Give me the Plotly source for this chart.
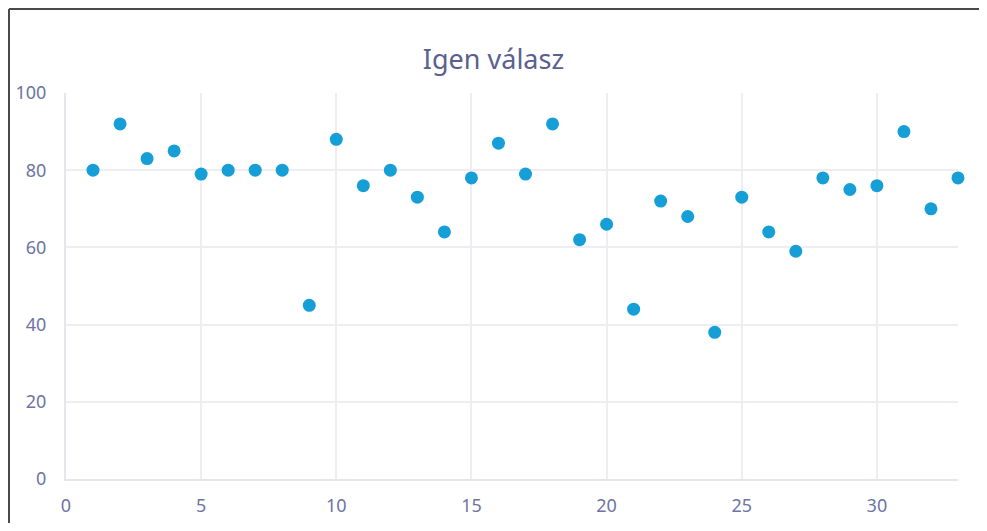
import plotly.graph_objects as go

# Data
days = list(range(1, 34))
igen = [80, 92, 83, 85, 79, 80, 80, 80, 45, 88, 76, 80, 73, 64, 78, 87, 79, 92,
        62, 66, 44, 72, 68, 38, 73, 64, 59, 78, 75, 76, 90, 70, 78]
title_text = "Igen válasz"

# page body has an 8px margin; figure placed at (8, 8)
OFF = 8
W, H = 987 - 2 * OFF, 531 - 2 * OFF
ml, mt = 66 - OFF, 93 - OFF
mr = W - (958 - OFF)
mb = H - (479 - OFF)
pw, ph = W - ml - mr, H - mt - mb

def px_x(p):
    return (p - OFF - ml) / pw

def px_y(p):
    return (H - mb - (p - OFF)) / ph

fig = go.Figure(go.Scatter(
    x=days, y=igen, mode="markers",
    marker=dict(size=13, color="#159fd6"),
    cliponaxis=False,
))

FONT = "Noto Sans, Open Sans, sans-serif"
label_color = "#6d74a3"
grid_color = "#ededf2"
fig.update_layout(
    width=W, height=H,
    margin=dict(l=ml, r=mr, t=mt, b=mb, autoexpand=False),
    paper_bgcolor="white", plot_bgcolor="white",
    font=dict(family=FONT, color=label_color, size=18),
    title=dict(text=title_text, x=0.5, xanchor="center", y=1 - (60 - OFF) / H, yanchor="middle",
               font=dict(size=27, color="#5a6190", family=FONT)),
    showlegend=False,
    xaxis=dict(range=[0, 33], tickvals=[0, 5, 10, 15, 20, 25, 30], showgrid=True,
               automargin=False,
               gridcolor=grid_color, gridwidth=1.5, zeroline=False, showline=True,
               linecolor="#e5e5ec", linewidth=2, ticks="outside", ticklen=9,
               tickcolor="rgba(0,0,0,0)", tickfont=dict(size=18, color=label_color)),
    yaxis=dict(range=[0, 100], tickvals=[0, 20, 40, 60, 80, 100], showgrid=True,
               automargin=False,
               gridcolor=grid_color, gridwidth=1.5, zeroline=False, showline=True,
               linecolor="#e5e5ec", linewidth=2, ticks="outside", ticklen=14,
               tickcolor="rgba(0,0,0,0)", tickfont=dict(size=18, color=label_color)),
    shapes=[
        dict(type="line", xref="paper", yref="paper", x0=px_x(OFF + 1), x1=px_x(1000),
             y0=px_y(OFF + 1), y1=px_y(OFF + 1), line=dict(color="#4a4a4a", width=2)),
        dict(type="line", xref="paper", yref="paper", x0=px_x(OFF + 1), x1=px_x(OFF + 1),
             y0=px_y(OFF + 1), y1=px_y(560), line=dict(color="#4a4a4a", width=2)),
    ],
)

fig.write_html("out.html")
